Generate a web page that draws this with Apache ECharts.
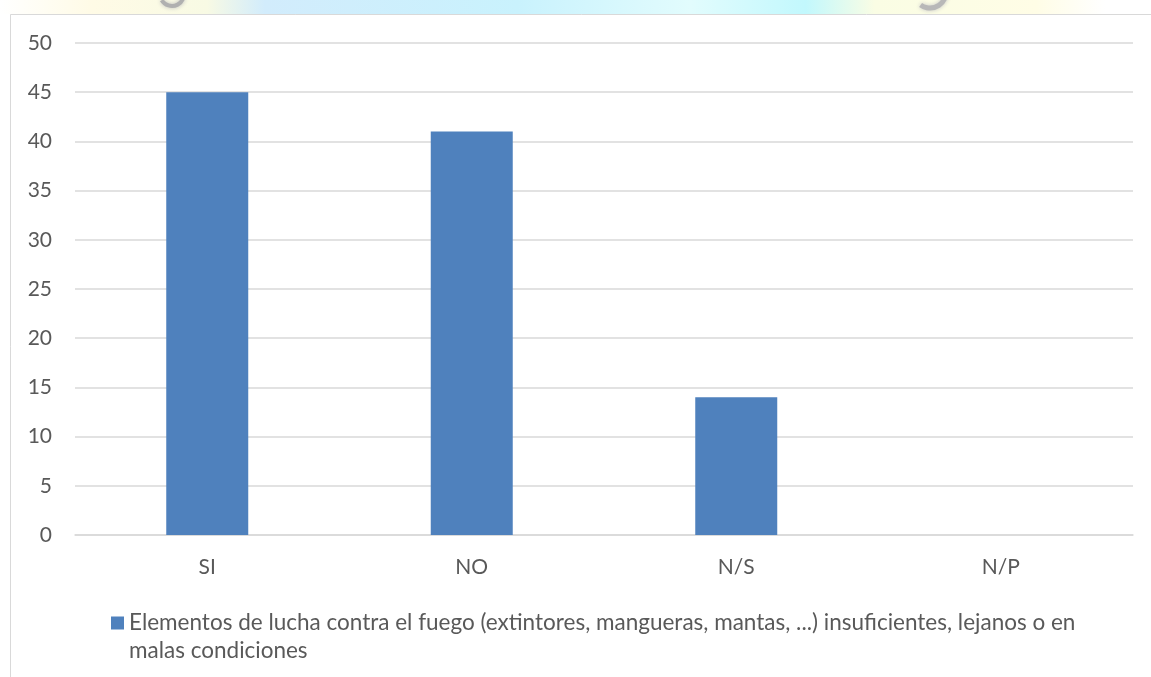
<!DOCTYPE html>
<html>
<head>
<meta charset="utf-8">
<script src="https://cdn.jsdelivr.net/npm/echarts@6/dist/echarts.min.js"></script>
<style>
  html, body { margin: 0; padding: 0; background: #ffffff; }
  #chart { width: 1151px; height: 677px; }
</style>
</head>
<body>
<div id="chart"></div>
<script>
// Categories and counts
const categories = ['SI', 'NO', 'N/S', 'N/P'];
const counts = [45, 41, 14, 0];
const seriesName = 'Elementos de lucha contra el fuego (extintores, mangueras, mantas, ...) insuficientes, lejanos o en malas condiciones';
const yTicks = { min: 0, max: 50, interval: 5 };

const textColor = '#595959';
const gridColor = '#d9d9d9';
const fontFamily = 'Lato, "Open Sans", sans-serif';

const chart = echarts.init(document.getElementById('chart'), null, { renderer: 'canvas' });

chart.setOption({
  animation: false,
  backgroundColor: '#ffffff',
  textStyle: { fontFamily: fontFamily },
  graphic: [
    {
      // decorative header strip above the chart frame
      type: 'rect',
      silent: true,
      z: -10,
      shape: { x: 0, y: 0, width: 1151, height: 14 },
      style: {
        fill: new echarts.graphic.LinearGradient(0, 0, 1, 0, [
          { offset: 0.0, color: '#ffffff' },
          { offset: 0.08, color: '#fffbe6' },
          { offset: 0.18, color: '#f8fae4' },
          { offset: 0.23, color: '#d2ecfc' },
          { offset: 0.45, color: '#c9f2fd' },
          { offset: 0.60, color: '#e2fcfd' },
          { offset: 0.70, color: '#c2f8fd' },
          { offset: 0.76, color: '#fafde4' },
          { offset: 0.90, color: '#fffde6' },
          { offset: 0.96, color: '#ffffff' },
          { offset: 1.0, color: '#ffffff' }
        ])
      }
    },
    {
      type: 'arc',
      silent: true,
      z: -9,
      shape: { cx: 172, cy: -6, r: 12, startAngle: 0.3, endAngle: 2.6 },
      style: { stroke: '#b0b0b0', lineWidth: 4, fill: null, shadowBlur: 4, shadowColor: '#c0c0c0' }
    },
    {
      type: 'arc',
      silent: true,
      z: -9,
      shape: { cx: 930, cy: -8, r: 16, startAngle: 0.2, endAngle: 2.2 },
      style: { stroke: '#b8b8b8', lineWidth: 5, fill: null, shadowBlur: 4, shadowColor: '#c8c8c8' }
    },
    {
      // chart frame
      type: 'rect',
      silent: true,
      z: -5,
      shape: { x: 10.5, y: 14.5, width: 1160, height: 700 },
      style: { fill: '#ffffff', stroke: gridColor, lineWidth: 1 }
    }
  ],
  grid: { left: 75, right: 18, top: 43, bottom: 142 },
  legend: {
    left: 106,
    top: 576,
    icon: 'rect',
    itemWidth: 13,
    itemHeight: 13,
    itemGap: 6,
    selectedMode: false,
    // leading blank line keeps the marker level with the first text line
    formatter: function (name) {
      return '\n' + name.replace(' o en ', ' o en\n');
    },
    textStyle: {
      color: textColor,
      fontSize: 22.5,
      lineHeight: 28,
      fontFamily: fontFamily
    },
    data: [seriesName]
  },
  xAxis: {
    type: 'category',
    data: categories,
    axisLine: { lineStyle: { color: gridColor, width: 1.5 } },
    axisTick: { show: false },
    axisLabel: { color: textColor, fontSize: 21, margin: 22, fontFamily: fontFamily }
  },
  yAxis: {
    type: 'value',
    min: yTicks.min,
    max: yTicks.max,
    interval: yTicks.interval,
    axisLine: { show: false },
    axisTick: { show: false },
    splitLine: { lineStyle: { color: gridColor, width: 1.5 } },
    axisLabel: { color: textColor, fontSize: 21, margin: 23, fontFamily: fontFamily }
  },
  series: [
    {
      name: seriesName,
      type: 'bar',
      data: counts,
      barWidth: '31%',
      itemStyle: { color: '#4f81bd' }
    }
  ]
});
</script>
</body>
</html>
